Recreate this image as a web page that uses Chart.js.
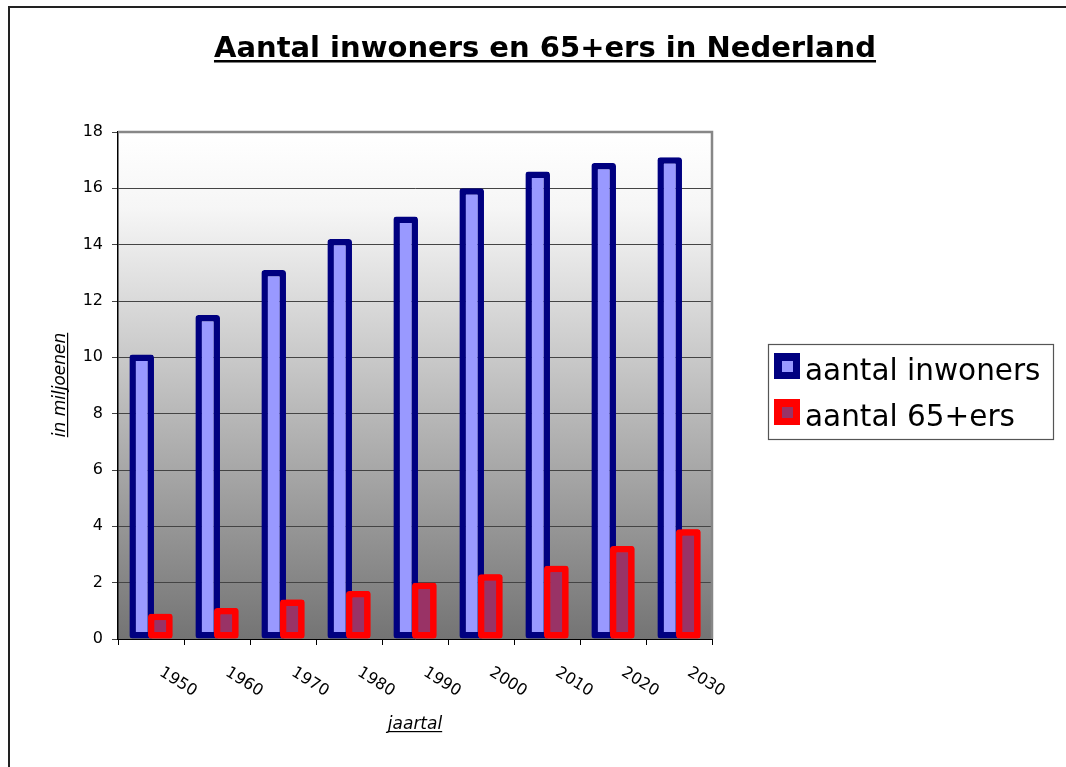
<!DOCTYPE html>
<html>
<head>
<meta charset="utf-8">
<script src="https://cdn.jsdelivr.net/npm/chart.js@4.4.1/dist/chart.umd.min.js"></script>
<style>
  html, body { margin: 0; padding: 0; background: #ffffff; }
  #wrap { width: 1066px; height: 767px; position: relative; }
</style>
</head>
<body>
<div id="wrap"><canvas id="c" width="1066" height="767"></canvas></div>
<script>
// ---- data ----
const categories = ['1950', '1960', '1970', '1980', '1990', '2000', '2010', '2020', '2030'];
const inwoners = [10.1, 11.5, 13.1, 14.2, 15.0, 16.0, 16.6, 16.9, 17.1];
const ouderen = [0.9, 1.1, 1.4, 1.7, 2.0, 2.3, 2.6, 3.3, 3.9];
const seriesNames = ['aantal inwoners', 'aantal 65+ers'];
const titleText = 'Aantal inwoners en 65+ers in Nederland';
const yTitle = 'in miljoenen';
const xTitle = 'jaartal';
const yMin = 0, yMax = 18, yStep = 2;

const FONT = '"DejaVu Sans", Verdana, sans-serif';
const fills = ['#9999ff', '#993366'];
const borders = ['#000080', '#ff0000'];

function underlineText(ctx, x1, x2, y, w) {
  ctx.save();
  ctx.fillRect(x1, y, x2 - x1, w);
  ctx.restore();
}

const decor = {
  id: 'decor',
  beforeDraw(chart) {
    const ctx = chart.ctx;
    const a = chart.chartArea;
    ctx.save();
    ctx.fillStyle = '#ffffff';
    ctx.fillRect(0, 0, chart.width, chart.height);
    const g = ctx.createLinearGradient(0, a.top, 0, a.bottom);
    g.addColorStop(0, '#ffffff');
    g.addColorStop(0.15, '#f6f6f6');
    g.addColorStop(1, '#747474');
    ctx.fillStyle = g;
    ctx.fillRect(a.left, a.top, a.right - a.left, a.bottom - a.top);
    ctx.restore();
  },
  afterDatasetsDraw(chart) {
    // 65+ bars are drawn in front of the population bars
    const meta = chart.getDatasetMeta(1);
    const ctx = chart.ctx;
    const a = chart.chartArea;
    ctx.save();
    meta.data.forEach(el => el.draw(ctx, a));
    ctx.restore();
  },
  afterDraw(chart) {
    const ctx = chart.ctx;
    const a = chart.chartArea;
    const xs = chart.scales.x;
    ctx.save();
    // plot frame (top & right)
    ctx.strokeStyle = '#878787';
    ctx.lineWidth = 2.5;
    ctx.beginPath();
    ctx.moveTo(a.left, a.top);
    ctx.lineTo(a.right, a.top);
    ctx.lineTo(a.right, a.bottom);
    ctx.stroke();

    // outer chart border (top & left)
    ctx.strokeStyle = '#222222';
    ctx.lineWidth = 2;
    ctx.beginPath();
    ctx.moveTo(1066, 7);
    ctx.lineTo(9, 7);
    ctx.lineTo(9, 767);
    ctx.stroke();

    // title
    ctx.fillStyle = '#000000';
    ctx.font = 'bold 29px ' + FONT;
    ctx.textAlign = 'center';
    ctx.textBaseline = 'alphabetic';
    const tcx = 545, tby = 57;
    ctx.fillText(titleText, tcx, tby);
    let tw = ctx.measureText(titleText).width;
    underlineText(ctx, tcx - tw / 2, tcx + tw / 2, tby + 3, 2.5);

    // x tick labels (rotated clockwise)
    ctx.font = '16px ' + FONT;
    ctx.textAlign = 'center';
    ctx.textBaseline = 'middle';
    categories.forEach((lab, i) => {
      const px = xs.getPixelForValue(i);
      ctx.save();
      ctx.translate(px + 27, a.bottom + 43);
      ctx.rotate(32 * Math.PI / 180);
      ctx.fillText(lab, 0, 0);
      ctx.restore();
    });

    // x axis title
    ctx.font = 'italic 17px ' + FONT;
    ctx.textBaseline = 'alphabetic';
    const xcx = 415, xby = 729;
    ctx.fillText(xTitle, xcx, xby);
    tw = ctx.measureText(xTitle).width;
    underlineText(ctx, xcx - tw / 2, xcx + tw / 2, xby + 2, 1.2);

    // y axis title
    ctx.save();
    ctx.translate(65, 385);
    ctx.rotate(-Math.PI / 2);
    ctx.fillText(yTitle, 0, 0);
    tw = ctx.measureText(yTitle).width;
    underlineText(ctx, -tw / 2, tw / 2, 2, 1.2);
    ctx.restore();

    // legend
    const lx = 768, ly = 344, lw = 285, lh = 95;
    ctx.fillStyle = '#ffffff';
    ctx.fillRect(lx, ly, lw, lh);
    ctx.strokeStyle = '#555555';
    ctx.lineWidth = 1.2;
    ctx.strokeRect(lx + 0.5, ly + 0.5, lw, lh);
    ctx.font = '29.5px ' + FONT;
    ctx.textAlign = 'left';
    ctx.textBaseline = 'alphabetic';
    const rows = [380, 426];
    seriesNames.forEach((name, i) => {
      const by = rows[i] - 27;
      ctx.fillStyle = borders[i];
      ctx.fillRect(774, by, 26, 26);
      ctx.fillStyle = fills[i];
      ctx.fillRect(782, by + 8, 11, 11);
      ctx.fillStyle = '#000000';
      ctx.fillText(name, 805, rows[i]);
    });
    ctx.restore();
  }
};

new Chart(document.getElementById('c'), {
  type: 'bar',
  data: {
    labels: categories,
    datasets: [
      {
        label: seriesNames[0],
        data: inwoners,
        backgroundColor: fills[0],
        borderColor: borders[0],
        borderWidth: 6.5,
        borderSkipped: false,
        borderRadius: 3,
        categoryPercentage: 0.564,
        barPercentage: 1.32
      },
      {
        label: seriesNames[1],
        data: ouderen,
        backgroundColor: fills[1],
        borderColor: borders[1],
        borderWidth: 6.5,
        borderSkipped: false,
        borderRadius: 3,
        categoryPercentage: 0.564,
        barPercentage: 1.32
      }
    ]
  },
  options: {
    responsive: false,
    animation: false,
    devicePixelRatio: 1,
    layout: { padding: { top: 132, right: 354, bottom: 0, left: 0 } },
    plugins: {
      legend: { display: false },
      title: { display: false },
      tooltip: { enabled: false }
    },
    scales: {
      x: {
        offset: true,
        grid: {
          display: true,
          drawOnChartArea: false,
          offset: true,
          drawTicks: true,
          tickLength: 6,
          color: '#000000'
        },
        border: { display: true, color: '#000000', width: 1 },
        ticks: { display: false },
        afterFit(scale) { scale.height = 128; }
      },
      y: {
        min: yMin,
        max: yMax,
        ticks: {
          stepSize: yStep,
          color: '#000000',
          font: { family: FONT, size: 16 },
          padding: 9
        },
        grid: {
          color: '#444444',
          lineWidth: 1,
          tickLength: 6,
          drawTicks: true
        },
        border: { display: true, color: '#000000', width: 1.5 },
        afterFit(scale) { scale.width = 118; }
      }
    }
  },
  plugins: [decor]
});
</script>
</body>
</html>
